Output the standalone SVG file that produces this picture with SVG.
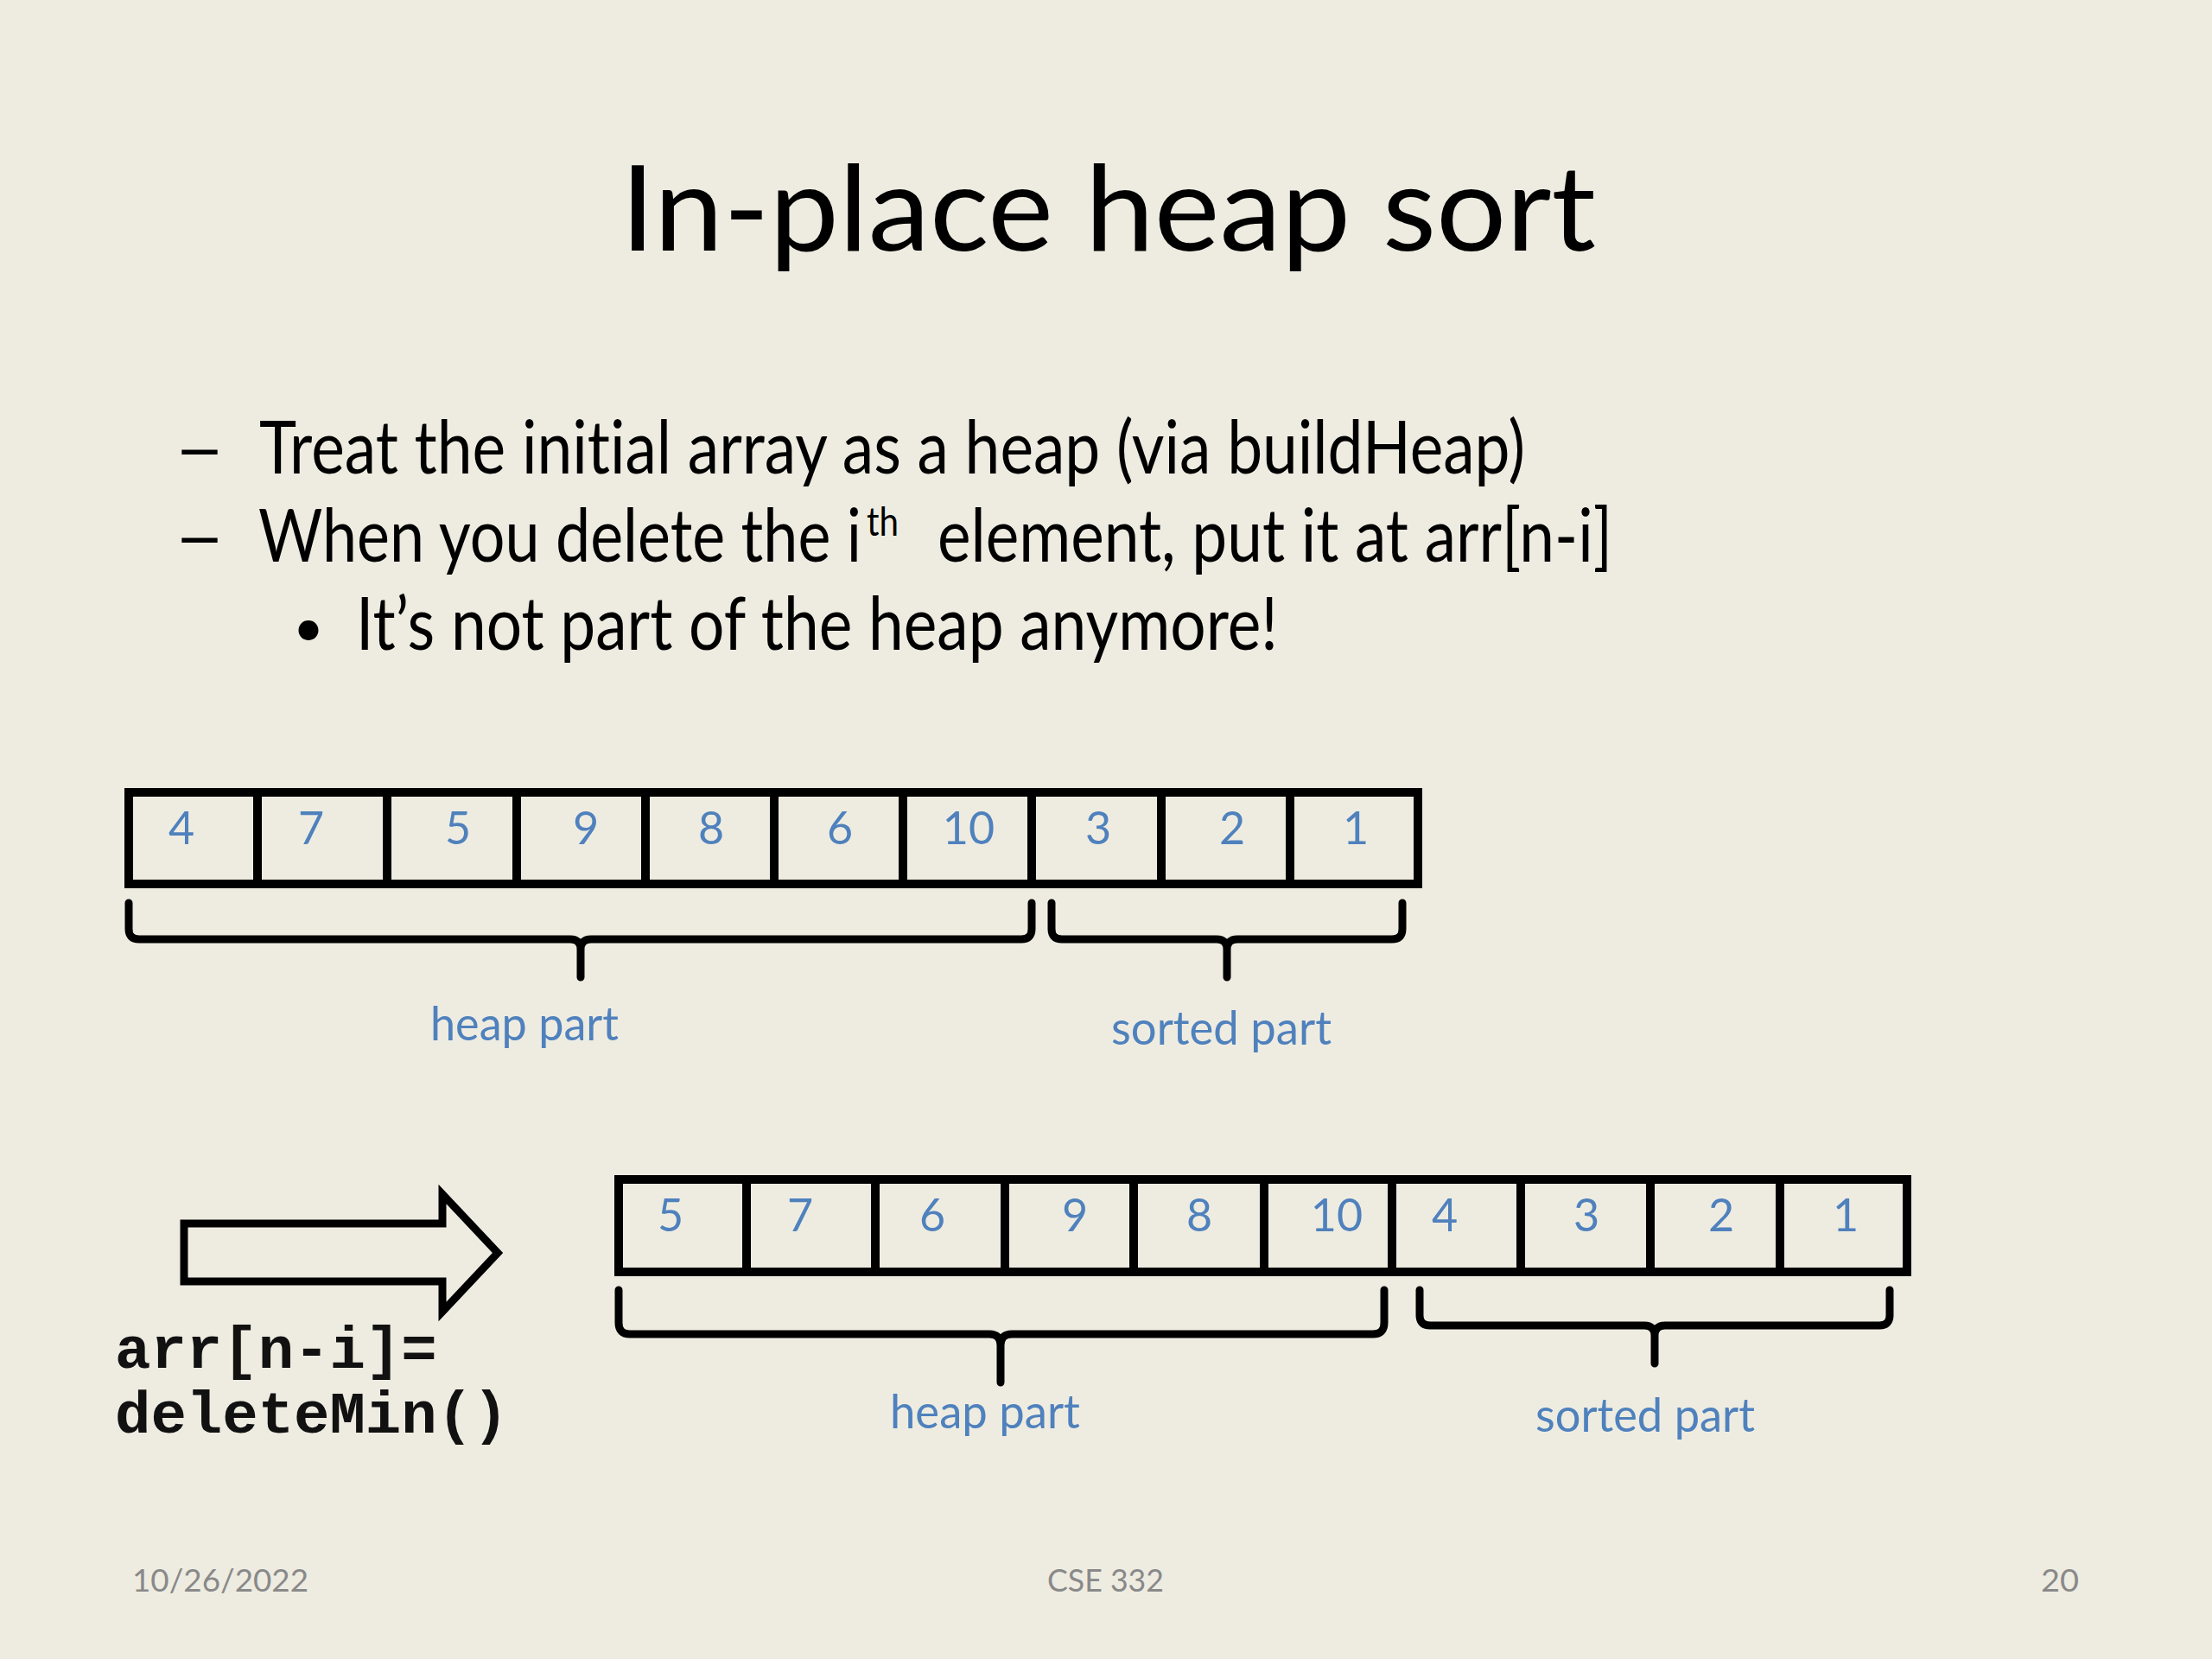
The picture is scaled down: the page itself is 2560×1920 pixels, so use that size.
<svg xmlns="http://www.w3.org/2000/svg" width="2560" height="1920" viewBox="0 0 2560 1920">
<style>
text{font-variant-ligatures:none;font-feature-settings:"liga" 0,"clig" 0}
.bg{fill:#EEECE1}
.t{font-family:Lato,"Liberation Sans",sans-serif;fill:#000}
.cell{fill:none;stroke:#000;stroke-width:10}
.num{font-family:Lato,"Liberation Sans",sans-serif;font-size:52px;fill:#4F81BD;text-anchor:middle}
.lbl{font-family:Lato,"Liberation Sans",sans-serif;font-size:54px;fill:#4F81BD}
.brace{fill:none;stroke:#000;stroke-width:9;stroke-linecap:round;stroke-linejoin:round}
.code{font-family:"Liberation Mono","Courier New",monospace;font-weight:bold;font-size:69px;fill:#111}
.foot{font-family:Lato,"Liberation Sans",sans-serif;font-size:36px;fill:#898989}
</style>
<rect class="bg" x="0" y="0" width="2560" height="1920"/>

<g id="title">
<text class="t" x="718" y="290" font-size="138" textLength="1129" lengthAdjust="spacingAndGlyphs">In-place heap sort</text>
</g>

<g id="bullets">
<text class="t" x="201" y="548" font-size="85" textLength="60" lengthAdjust="spacingAndGlyphs">–</text>
<text class="t" x="300" y="548" font-size="85" textLength="1465" lengthAdjust="spacingAndGlyphs">Treat the initial array as a heap (via buildHeap)</text>
<text class="t" x="201" y="650" font-size="85" textLength="60" lengthAdjust="spacingAndGlyphs">–</text>
<text class="t" font-size="85" lengthAdjust="spacingAndGlyphs"><tspan x="299" y="650" textLength="698" lengthAdjust="spacingAndGlyphs">When you delete the i</tspan><tspan x="1003" y="620" font-size="46" textLength="37" lengthAdjust="spacingAndGlyphs">th</tspan><tspan x="1085" y="650" textLength="781" lengthAdjust="spacingAndGlyphs">element, put it at arr[n-i]</tspan></text>
<text class="t" x="357" y="748" font-size="62" text-anchor="middle">•</text>
<text class="t" x="412" y="752" font-size="85" textLength="1067" lengthAdjust="spacingAndGlyphs">It’s not part of the heap anymore!</text>
</g>

<g id="array1">
<g id="a1c0"><rect class="cell" x="149" y="917" width="149" height="106"/><text class="num" x="210" y="977">4</text></g>
<g id="a1c1"><rect class="cell" x="298" y="917" width="150" height="106"/><text class="num" x="360" y="977">7</text></g>
<g id="a1c2"><rect class="cell" x="448" y="917" width="150" height="106"/><text class="num" x="530" y="977">5</text></g>
<g id="a1c3"><rect class="cell" x="598" y="917" width="149" height="106"/><text class="num" x="678" y="977">9</text></g>
<g id="a1c4"><rect class="cell" x="747" y="917" width="149" height="106"/><text class="num" x="823" y="977">8</text></g>
<g id="a1c5"><rect class="cell" x="896" y="917" width="149" height="106"/><text class="num" x="972" y="977">6</text></g>
<g id="a1c6"><rect class="cell" x="1045" y="917" width="149" height="106"/><text class="num" x="1121" y="977">10</text></g>
<g id="a1c7"><rect class="cell" x="1194" y="917" width="150" height="106"/><text class="num" x="1271" y="977">3</text></g>
<g id="a1c8"><rect class="cell" x="1344" y="917" width="149" height="106"/><text class="num" x="1426" y="977">2</text></g>
<g id="a1c9"><rect class="cell" x="1493" y="917" width="148" height="106"/><text class="num" x="1569" y="977">1</text></g>
</g>

<g id="array2">
<g id="a2c0"><rect class="cell" x="716" y="1365" width="148" height="107"/><text class="num" x="776" y="1425">5</text></g>
<g id="a2c1"><rect class="cell" x="864" y="1365" width="149" height="107"/><text class="num" x="926" y="1425">7</text></g>
<g id="a2c2"><rect class="cell" x="1013" y="1365" width="150" height="107"/><text class="num" x="1079" y="1425">6</text></g>
<g id="a2c3"><rect class="cell" x="1163" y="1365" width="149" height="107"/><text class="num" x="1244" y="1425">9</text></g>
<g id="a2c4"><rect class="cell" x="1312" y="1365" width="151" height="107"/><text class="num" x="1388" y="1425">8</text></g>
<g id="a2c5"><rect class="cell" x="1463" y="1365" width="148" height="107"/><text class="num" x="1547" y="1425">10</text></g>
<g id="a2c6"><rect class="cell" x="1611" y="1365" width="149" height="107"/><text class="num" x="1672" y="1425">4</text></g>
<g id="a2c7"><rect class="cell" x="1760" y="1365" width="150" height="107"/><text class="num" x="1836" y="1425">3</text></g>
<g id="a2c8"><rect class="cell" x="1910" y="1365" width="150" height="107"/><text class="num" x="1992" y="1425">2</text></g>
<g id="a2c9"><rect class="cell" x="2060" y="1365" width="147" height="107"/><text class="num" x="2136" y="1425">1</text></g>
</g>

<g id="connectors">
<path class="brace" d="M149,1045 L149,1075 Q149,1087 161,1087 L660,1087 Q672,1087 672,1099 L672,1131 M672,1099 Q672,1087 684,1087 L1182,1087 Q1194,1087 1194,1075 L1194,1045"/>
<path class="brace" d="M1217,1045 L1217,1075 Q1217,1087 1229,1087 L1408,1087 Q1420,1087 1420,1099 L1420,1131 M1420,1099 Q1420,1087 1432,1087 L1611,1087 Q1623,1087 1623,1075 L1623,1045"/>
<path class="brace" d="M716,1493 L716,1531 Q716,1544 729,1544 L1145,1544 Q1158,1544 1158,1557 L1158,1600 M1158,1557 Q1158,1544 1171,1544 L1589,1544 Q1602,1544 1602,1531 L1602,1493"/>
<path class="brace" d="M1643,1493 L1643,1522 Q1643,1534 1655,1534 L1903,1534 Q1915,1534 1915,1546 L1915,1578 M1915,1546 Q1915,1534 1927,1534 L2175,1534 Q2187,1534 2187,1522 L2187,1493"/>
<polygon id="step-arrow" points="213,1416 512,1416 512,1382 576,1450 512,1518 512,1483 213,1483" fill="none" stroke="#000" stroke-width="9" stroke-linejoin="miter"/>
</g>

<g id="labels">
<text class="lbl" x="498" y="1204" textLength="218" lengthAdjust="spacingAndGlyphs">heap part</text>
<text class="lbl" x="1286" y="1209" textLength="255" lengthAdjust="spacingAndGlyphs">sorted part</text>
<text class="lbl" x="1030" y="1653" textLength="220" lengthAdjust="spacingAndGlyphs">heap part</text>
<text class="lbl" x="1777" y="1657" textLength="254" lengthAdjust="spacingAndGlyphs">sorted part</text>
</g>

<g id="code">
<text class="code" x="133" y="1583">arr[n-i]=</text>
<text class="code" x="133" y="1658">deleteMin()</text>
</g>

<g id="footer">
<text class="foot" x="153" y="1842" textLength="204" lengthAdjust="spacingAndGlyphs">10/26/2022</text>
<text class="foot" x="1212" y="1842" textLength="135" lengthAdjust="spacingAndGlyphs">CSE 332</text>
<text class="foot" x="2362" y="1842" textLength="44" lengthAdjust="spacingAndGlyphs">20</text>
</g>
</svg>
